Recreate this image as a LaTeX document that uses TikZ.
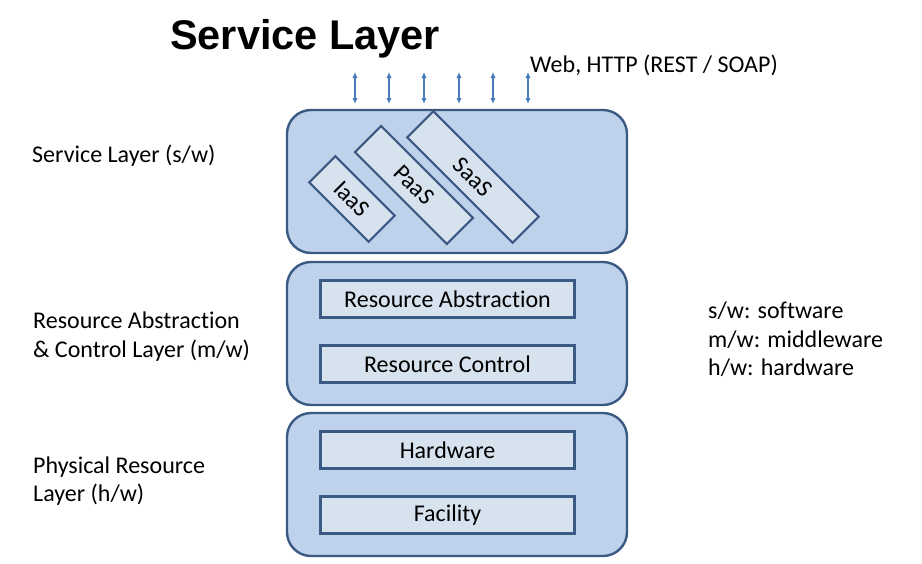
\documentclass[tikz,border=0pt]{standalone}
\usepackage{fontspec}
\setmainfont[Ligatures=NoCommon]{Carlito}
\newfontfamily\titlefont{Liberation Sans}
\usetikzlibrary{arrows.meta}
\definecolor{outerfill}{RGB}{190,211,235}
\definecolor{innerfill}{RGB}{215,226,239}
\definecolor{edge}{RGB}{58,90,131}
\definecolor{arrowblue}{RGB}{74,125,186}
\begin{document}
\begin{tikzpicture}[x=1pt,y=-1pt,
  layerbox/.style={draw=edge,line width=2.4pt,fill=outerfill,rounded corners=24pt},
  subbox/.style={draw=edge,line width=2.2pt,fill=innerfill,inner sep=0pt,
     minimum width=254pt,minimum height=37pt,font=\fontsize{24}{29}\selectfont},
  rotbox/.style={draw=edge,line width=2.2pt,fill=innerfill,inner sep=0pt,
     minimum height=37pt,rotate=-45,font=\fontsize{24}{29}\selectfont},
  lbl/.style={anchor=base west,inner sep=0pt,font=\fontsize{24}{29}\selectfont},
  io/.style={draw=arrowblue,line width=1.3pt,{Latex[length=6pt,width=5.5pt]}-{Latex[length=6pt,width=5.5pt]}}
]
\useasboundingbox (0,0) rectangle (922,563);

% title
\node[anchor=base west,inner sep=0pt,font=\titlefont\bfseries\fontsize{41.5}{48}\selectfont] (title) at (170,49) {Service Layer};

% layer boxes
\draw[layerbox] (287,110) rectangle (627,253);
\draw[layerbox] (287,262) rectangle (627,405);
\draw[layerbox] (287,413) rectangle (627,556);

% rotated service boxes
\node[rotbox,minimum width=84pt] (iaas) at (352,199) {IaaS};
\node[rotbox,minimum width=130pt] (paas) at (414,185) {PaaS};
\node[rotbox,minimum width=149pt] (saas) at (473,177) {SaaS};

% inner boxes
\node[subbox] (ra) at (447.5,299) {Resource Abstraction};
\node[subbox] (rc) at (447.5,364) {Resource Control};
\node[subbox] (hw) at (447.5,450) {Hardware};
\node[subbox] (fa) at (447.5,515) {Facility};

% arrows
\foreach \i/\x in {1/355,2/389,3/424,4/459,5/493,6/528}{
  \coordinate (t\i) at (\x,72);
  \coordinate (b\i) at (\x,104);
  \draw[io] (t\i) -- (b\i);
}
\node[lbl] (web) at (530,72) {Web, HTTP (REST / SOAP)};

% left labels
\node[lbl] (sl) at (32,162) {Service Layer (s/w)};
\node[lbl] (ral1) at (33,328) {Resource Abstraction};
\node[lbl] (ral2) at (33,357) {\& Control Layer (m/w)};
\node[lbl] (pr1) at (33,473) {Physical Resource};
\node[lbl] (pr2) at (33,501) {Layer (h/w)};

% legend
\node[lbl] (lg1) at (708,318) {s/w: software};
\node[lbl] (lg2) at (708,347) {m/w: middleware};
\node[lbl] (lg3) at (708,375) {h/w: hardware};
\end{tikzpicture}
\end{document}
